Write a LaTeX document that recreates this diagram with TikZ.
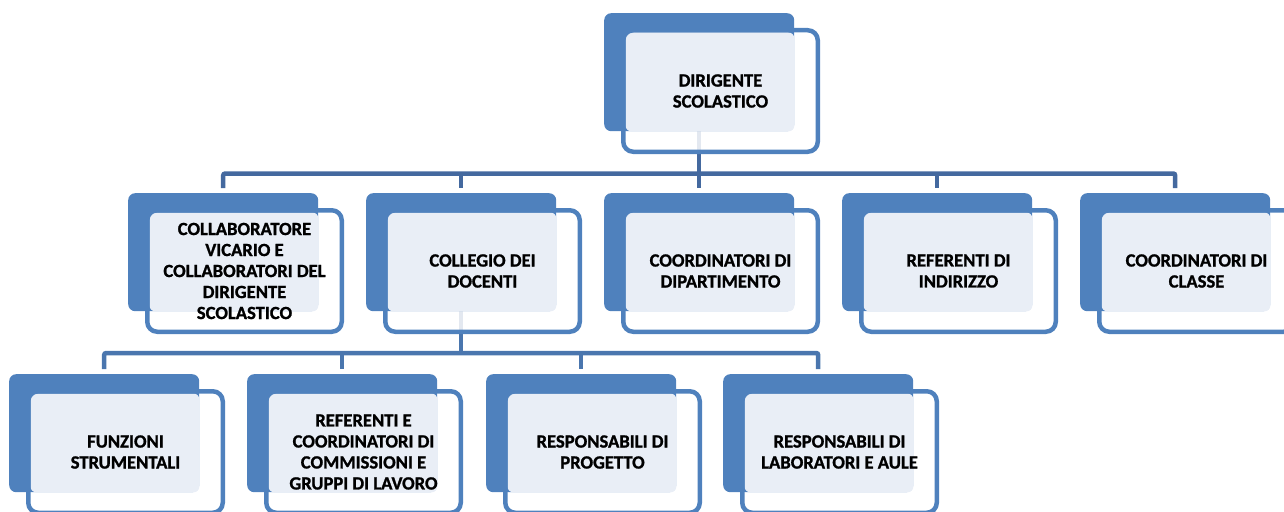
\documentclass[tikz,border=0pt]{standalone}
\usepackage{fontspec}
\setmainfont{Carlito}[BoldFont={Carlito Bold},BoldFeatures={FakeBold=1.2}]
\usetikzlibrary{calc,backgrounds}
\definecolor{accent}{HTML}{4F81BD}
\definecolor{lightfill}{HTML}{E9EEF6}
\definecolor{connA}{HTML}{44699F}
\definecolor{connB}{HTML}{4A76AE}
\definecolor{stubcol}{HTML}{E3E8F0}
\tikzset{
 backbox/.style={fill=accent, rounded corners=7pt, minimum width=190pt, minimum height=118pt, inner sep=0pt, anchor=north west},
 framebox/.style={draw=accent, line width=4.5pt, rounded corners=10pt, minimum width=194.5pt, minimum height=121.5pt, inner sep=0pt, align=center, font=\bfseries\fontsize{18.6}{21}\selectfont},
 lightbox/.style={fill=lightfill, rounded corners=6pt},
 connone/.style={draw=connA, line width=4.5pt, rounded corners=2pt},
 conntwo/.style={draw=connB, line width=4.5pt, rounded corners=2pt},
 stubline/.style={draw=stubcol, line width=4.5pt},
}
\newcommand\orgunit[4]{%
 \node[backbox] (#1-b) at (#2,#3) {};
 \fill[lightbox] ($(#1-b.north west)+(21.5pt,-19.5pt)$) rectangle (#1-b.south east);
 \node[framebox] (#1) at ($(#1-b.north west)+(116.5pt,-78pt)$) {#4};
}
\begin{document}
\begin{tikzpicture}[x=1pt,y=-1pt]
\useasboundingbox (0,0) rectangle (1284,511);
\clip (0,0) rectangle (1284,511);
\orgunit{ds}{604}{13}{DIRIGENTE\\SCOLASTICO}
\orgunit{c1}{128}{193}{COLLABORATORE\\VICARIO E\\COLLABORATORI DEL\\DIRIGENTE\\SCOLASTICO}
\orgunit{c2}{366}{193}{COLLEGIO DEI\\DOCENTI}
\orgunit{c3}{604}{193}{COORDINATORI DI\\DIPARTIMENTO}
\orgunit{c4}{842}{193}{REFERENTI DI\\INDIRIZZO}
\orgunit{c5}{1080}{193}{COORDINATORI DI\\CLASSE}
\orgunit{d1}{9}{374}{FUNZIONI\\STRUMENTALI}
\orgunit{d2}{247}{374}{REFERENTI E\\COORDINATORI DI\\COMMISSIONI E\\GRUPPI DI LAVORO}
\orgunit{d3}{486}{374}{RESPONSABILI DI\\PROGETTO}
\orgunit{d4}{723}{374}{RESPONSABILI DI\\LABORATORI E AULE}
\coordinate (bar1) at (0,173.5);
\coordinate (bar2) at (0,353);
\begin{pgfonlayer}{background}
 % first level
 \draw[stubline] (ds-b.south) -- (ds-b.south |- ds.south);
 \draw[connone] (ds-b.south |- ds.south) -- (ds-b.south |- bar1);
 \draw[connone] ($(c1-b.north)+(0,5pt)$) |- (bar1 -| c5-b.north) -- ($(c5-b.north)+(0,5pt)$);
 \draw[connone] (c2-b.north |- bar1) -- ($(c2-b.north)+(0,5pt)$);
 \draw[connone] (c3-b.north |- bar1) -- ($(c3-b.north)+(0,5pt)$);
 \draw[connone] (c4-b.north |- bar1) -- ($(c4-b.north)+(0,5pt)$);
 % second level
 \draw[stubline] (c2-b.south) -- (c2-b.south |- c2.south);
 \draw[conntwo] (c2-b.south |- c2.south) -- (c2-b.south |- bar2);
 \draw[conntwo] ($(d1-b.north)+(0,5pt)$) |- (bar2 -| d4-b.north) -- ($(d4-b.north)+(0,5pt)$);
 \draw[conntwo] (d2-b.north |- bar2) -- ($(d2-b.north)+(0,5pt)$);
 \draw[conntwo] (d3-b.north |- bar2) -- ($(d3-b.north)+(0,5pt)$);
\end{pgfonlayer}
\end{tikzpicture}
\end{document}
